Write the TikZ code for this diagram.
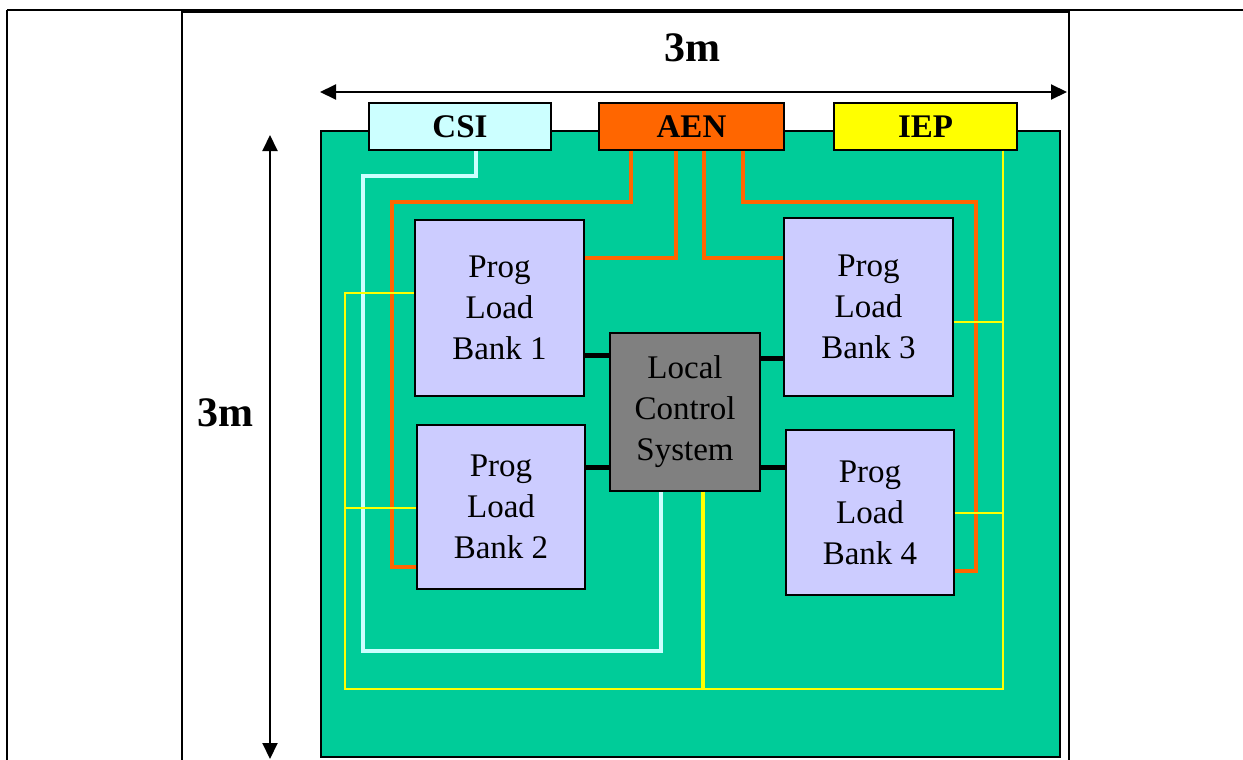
\documentclass[tikz,border=0pt]{standalone}
\usepackage{fontspec}
\setmainfont{Liberation Serif}
\usepackage{tikz}
\usetikzlibrary{arrows.meta,positioning}
\definecolor{board}{HTML}{00CC99}
\definecolor{csicol}{HTML}{CCFFFF}
\definecolor{aencol}{HTML}{FF6600}
\definecolor{iepcol}{HTML}{FFFF00}
\definecolor{bankcol}{HTML}{CCCCFF}
\definecolor{lcscol}{HTML}{808080}

\begin{document}
\begin{tikzpicture}[x=0.5pt, y=-0.5pt, >={Triangle[length=8pt,width=7.5pt]},
  bus/.style={draw, line width=0.7pt, inner sep=0pt,
    font=\fontsize{16.5}{20}\selectfont\bfseries,
    minimum height=23.5pt},
  bank/.style={draw, line width=0.7pt, fill=bankcol, inner sep=0pt,
    align=center, font=\fontsize{16.5}{20.5}\selectfont},
  dim/.style={font=\fontsize{21}{25}\selectfont\bfseries},
  aenw/.style={draw=aencol, line width=2.4pt},
  csiw/.style={draw=csicol, line width=2.2pt},
  iepw/.style={draw=iepcol, line width=1.4pt},
  ctl/.style={draw=black, line width=2.5pt}]
\useasboundingbox (0,0) rectangle (1243,760);
% outline
\draw[line width=1.2pt] (7,10) -- (1243,10);
\draw[line width=2pt] (182,11) -- (1069,11);
\draw[line width=1.2pt] (7,10) -- (7,760);
\draw[line width=1.2pt] (182,10) -- (182,760);
\draw[line width=1.2pt] (1069,10) -- (1069,760);
% board
\draw[line width=0.75pt, fill=board] (321,131) rectangle (1060,757);
% dimensions
\coordinate (hl) at (320,92);
\coordinate (hr) at (1067,92);
\coordinate (vt) at (270,135);
\coordinate (vb) at (270,759);
\draw[<->, line width=1pt] (hl) -- (hr);
\draw[<->, line width=1pt] (vt) -- (vb);
\node[dim] (wlbl) at (692,48) {3m};
\node[dim] (hlbl) at (225,413) {3m};
% interfaces
\node[bus, fill=csicol, minimum width=91pt] (csi) at (460,126.5) {CSI};
\node[bus, fill=aencol, minimum width=92.5pt] (aen) at (691.5,126.5) {AEN};
\node[bus, fill=iepcol, minimum width=91.5pt] (iep) at (925.5,126.5) {IEP};
% load banks
\node[bank, minimum width=84.5pt, minimum height=88pt] (bank1) at (499.5,308) {Prog\\Load\\Bank 1};
\node[bank, minimum width=84pt, minimum height=82pt] (bank2) at (501,507) {Prog\\Load\\Bank 2};
\node[bank, minimum width=84.5pt, minimum height=89pt] (bank3) at (868.5,307) {Prog\\Load\\Bank 3};
\node[bank, minimum width=84pt, minimum height=82.5pt] (bank4) at (870,512.5) {Prog\\Load\\Bank 4};
\node[bank, fill=lcscol, minimum width=75pt, minimum height=79pt] (lcs) at (685,412) {Local\\Control\\System};
% AEN wiring
\draw[aenw] (aen.south -| 631,0) |- (392,202) |- (bank2.west |- 0,567);
\draw[aenw] (aen.south -| 676,0) |- (bank1.east |- 0,258);
\draw[aenw] (aen.south -| 704,0) |- (bank3.west |- 0,258);
\draw[aenw] (aen.south -| 743,0) |- (976,202) |- (bank4.east |- 0,571);
% CSI wiring
\draw[csiw] (csi.south -| 476,0) |- (363,176) |- (661,651) -- (lcs.south -| 661,0);
% IEP wiring
\draw[iepw] (iep.south -| 1003,0) -- (1003,689) -| (345,293) -- (bank1.west |- 0,293);
\draw[iepw] (345,508) -- (bank2.west |- 0,508);
\draw[iepw] (bank3.east |- 0,322) -- (1003,322);
\draw[iepw] (bank4.east |- 0,513) -- (1003,513);
\draw[iepw, line width=2.2pt] (lcs.south -| 703,0) -- (703,689);
% control links
\draw[ctl] (bank1.east |- 0,355) -- (lcs.west |- 0,355);
\draw[ctl] (bank2.east |- 0,467) -- (lcs.west |- 0,467);
\draw[ctl] (lcs.east |- 0,358) -- (bank3.west |- 0,358);
\draw[ctl] (lcs.east |- 0,467) -- (bank4.west |- 0,467);
\end{tikzpicture}
\end{document}
